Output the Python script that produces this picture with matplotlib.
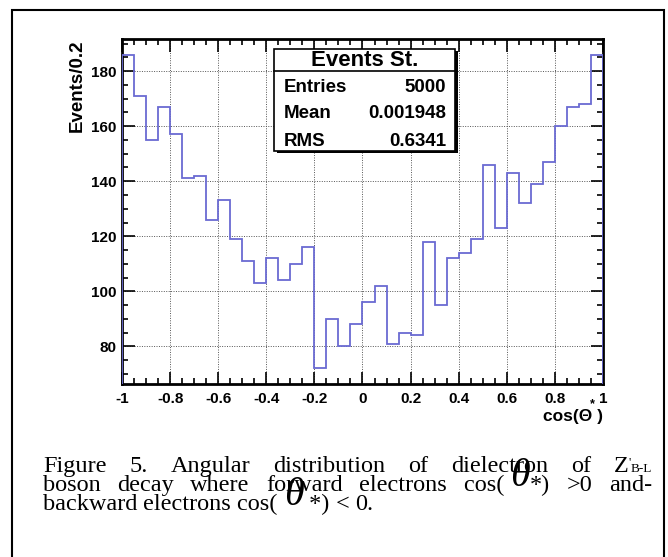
import matplotlib

matplotlib.use("Agg")
import matplotlib.pyplot as plt
import numpy as np
from matplotlib.patches import Rectangle

# cos(theta*) histogram, 40 bins of 0.05 from -1 to 1
EDGES = np.linspace(-1, 1, 41)
COUNTS = [186, 171, 155, 167, 157, 141, 142, 126, 133, 119,
          111, 103, 112, 104, 110, 116, 72, 90, 80, 88,
          96, 102, 81, 85, 84, 118, 95, 112, 114, 119,
          146, 123, 143, 132, 139, 147, 160, 167, 168, 186]
XTICKS = [-1, -0.8, -0.6, -0.4, -0.2, 0, 0.2, 0.4, 0.6, 0.8, 1]
XTICK_LABELS = ["-1", "-0.8", "-0.6", "-0.4", "-0.2", "0", "0.2", "0.4", "0.6", "0.8", "1"]
YTICKS = [80, 100, 120, 140, 160, 180]
STATS = [("Entries", "5000"), ("Mean", "0.001948"), ("RMS", "0.6341")]

# caption words; a word is a list of (text, size, italic, dy) pieces
CS = 17.5
TH = 29
CAPTION = [
    [[("Figure", CS, False, 0)], [("5.", CS, False, 0)], [("Angular", CS, False, 0)],
     [("distribution", CS, False, 0)], [("of", CS, False, 0)],
     [("dielectron", CS, False, 0)], [("of", CS, False, 0)],
     [("Z", CS, False, 0), ("'", 9, False, -6), ("B-L", 9.5, False, 0)]],
    [[("boson", CS, False, 0)], [("decay", CS, False, 0)], [("where", CS, False, 0)],
     [("forward", CS, False, 0)], [("electrons", CS, False, 0)],
     [("cos( ", CS, False, 0), ("\u03b8", TH, True, -5), ("*)", CS, False, 0)],
     [(">0", CS, False, 0)], [("and-", CS, False, 0)]],
    [[("backward", CS, False, 0)], [("electrons", CS, False, 0)],
     [("cos( ", CS, False, 0), ("\u03b8", TH, True, -5), (" *)", CS, False, 0)],
     [("<", CS, False, 0)], [("0.", CS, False, 0)]],
]
JUSTIFY = [True, True, False]
BASELINES = [472, 491, 510]

W, H = 668, 557
SANS = "Liberation Sans"
SERIF = "Liberation Serif"
LINE = "#6a6ad2"

fig = plt.figure(figsize=(W / 100, H / 100), dpi=100)


def fx(px):
    return px / W


def fy(py):
    return 1 - py / H


# outer frame around plot + caption
fig.patches.append(Rectangle((fx(12), fy(580)), fx(664) - fx(12), fy(10) - fy(580),
                             transform=fig.transFigure, fill=False, lw=1.5, ec="black"))

ax = fig.add_axes([fx(122), fy(384), fx(603) - fx(122), fy(39) - fy(384)])
lo = min(COUNTS) - 0.05 * (max(COUNTS) - min(COUNTS))
hi = max(COUNTS) + 0.05 * (max(COUNTS) - min(COUNTS))
ax.stairs(COUNTS, EDGES, baseline=lo, color=LINE, lw=1.3, zorder=3)
ax.set_xlim(-1, 1)
ax.set_ylim(lo, hi)

ax.set_xticks(XTICKS)
ax.set_xticklabels(XTICK_LABELS)
ax.set_yticks(YTICKS)
ax.set_xticks(np.arange(-1, 1.001, 0.05), minor=True)
ax.set_yticks(np.arange(70, 191, 5), minor=True)
ax.tick_params(which="both", direction="in", top=True, right=True, width=1.2)
ax.tick_params(which="major", length=9, pad=6)
ax.tick_params(which="minor", length=4.5)
for lab in ax.get_xticklabels() + ax.get_yticklabels():
    lab.set_fontfamily(SANS)
    lab.set_fontweight("bold")
    lab.set_fontsize(11)
ax.tick_params(axis="y", pad=4)
ax.grid(True, which="major", ls=(0, (1, 1.5)), color="#555555", lw=0.7)
for s in ax.spines.values():
    s.set_linewidth(2)

fig.text(fx(77), fy(39), "Events/0.2", rotation=90, ha="center", va="top",
         family=SANS, weight="bold", fontsize=13.5)
fig.text(fx(603), fy(416), "cos(\u0398 )", ha="right", va="center",
         family=SANS, weight="bold", fontsize=12.5)
fig.text(fx(592), fy(404), "*", ha="center", va="center",
         family=SANS, weight="bold", fontsize=9)

# stats box
bx0, by0, bx1, by1 = 274, 49, 455, 151
fig.patches.append(Rectangle((fx(bx0 + 2.5), fy(by1 + 2.5)), fx(bx1) - fx(bx0), fy(by0) - fy(by1),
                             transform=fig.transFigure, fc="black", ec="none", zorder=4))
fig.patches.append(Rectangle((fx(bx0), fy(by1)), fx(bx1) - fx(bx0), fy(by0) - fy(by1),
                             transform=fig.transFigure, fc="white", ec="black", lw=1.2, zorder=5))
fig.lines.append(plt.Line2D([fx(bx0), fx(bx1)], [fy(71), fy(71)],
                            transform=fig.transFigure, color="black", lw=1.2, zorder=6))
fig.text(fx((bx0 + bx1) / 2), fy(60), "Events St.", ha="center", va="center",
         family=SANS, weight="bold", fontsize=16, zorder=7)
for i, (k, v) in enumerate(STATS):
    y = fy(87 + i * 27)
    fig.text(fx(284), y, k, ha="left", va="center", family=SANS, weight="bold",
             fontsize=13.5, zorder=7)
    fig.text(fx(446), y, v, ha="right", va="center", family=SANS, weight="bold",
             fontsize=13.5, zorder=7)

# caption: lay pieces out word by word, first two lines justified
renderer = fig.canvas.get_renderer()
LEFT, RIGHT = 43, 652
space = 6
for words, just, base in zip(CAPTION, JUSTIFY, BASELINES):
    placed = []
    for word in words:
        segs = []
        for txt, size, ital, dy in word:
            a = fig.text(0, fy(base + dy), txt, ha="left", va="baseline", family=SERIF,
                         fontsize=size, style="italic" if ital else "normal")
            segs.append((a, a.get_window_extent(renderer).width))
        placed.append(segs)
    widths = [sum(w for _, w in segs) for segs in placed]
    gap = (RIGHT - LEFT - sum(widths)) / (len(placed) - 1) if just else space
    x = LEFT
    for segs, wd in zip(placed, widths):
        sx = x
        for a, w in segs:
            a.set_x(fx(sx))
            sx += w
        x += wd + gap

fig.savefig("out.png", dpi=100)
